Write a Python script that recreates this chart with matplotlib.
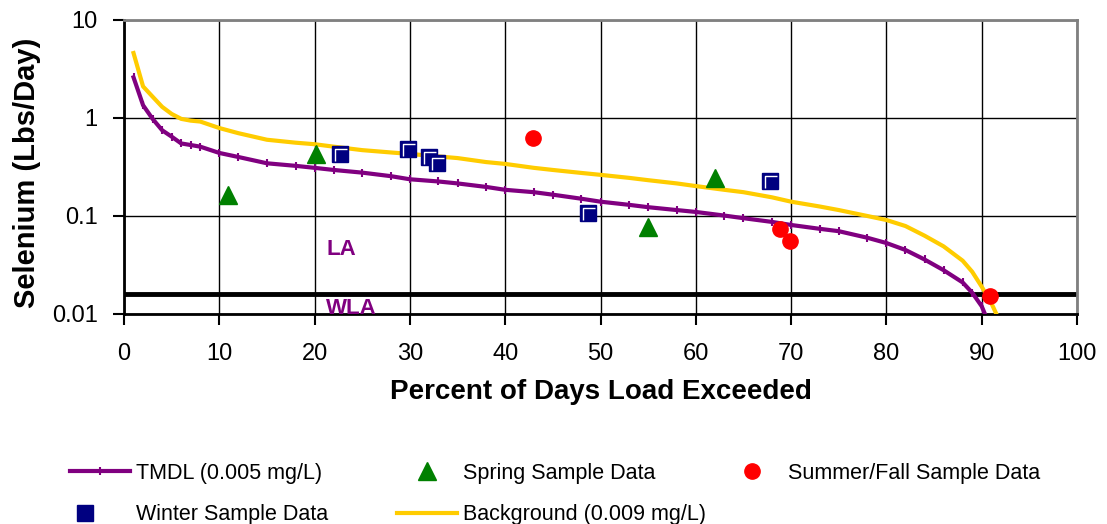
#!/usr/bin/env python3
"""
Selenium load duration curve: TMDL and background curves with seasonal samples.
"""

import matplotlib
matplotlib.use("Agg")
import matplotlib.pyplot as plt
from matplotlib.path import Path
from matplotlib.legend_handler import HandlerTuple
from matplotlib.ticker import FixedLocator, FixedFormatter, NullLocator

plt.rcParams['font.family'] = ['Liberation Sans', 'DejaVu Sans']

# TMDL curve (0.005 mg/L)
tmdl_pct = [1, 2, 3, 4, 5, 6, 7, 8, 10, 12, 15, 18, 20, 22, 25, 28, 30, 33, 35,
            38, 40, 43, 45, 48, 50, 53, 55, 58, 60, 63, 65, 68, 70, 73, 75, 78,
            80, 82, 84, 86, 88, 89, 90, 91]
tmdl_load = [2.6, 1.35, 0.98, 0.75, 0.645, 0.55, 0.53, 0.51, 0.44, 0.40, 0.345,
             0.325, 0.31, 0.295, 0.277, 0.255, 0.237, 0.225, 0.215, 0.198, 0.185,
             0.175, 0.165, 0.15, 0.14, 0.13, 0.123, 0.115, 0.11, 0.101, 0.095,
             0.087, 0.081, 0.074, 0.07, 0.06, 0.053, 0.045, 0.036, 0.028, 0.021,
             0.0165, 0.012, 0.007]

# Background curve (0.009 mg/L)
bg_pct = [1, 2, 3, 4, 5, 6, 7, 8, 10, 12, 15, 18, 20, 22, 25, 28, 30, 33, 35,
          38, 40, 43, 45, 48, 50, 53, 55, 58, 60, 63, 65, 68, 70, 73, 75, 78,
          80, 82, 84, 86, 88, 89, 90, 91, 92]
bg_load = [4.6, 2.1, 1.65, 1.3, 1.1, 0.98, 0.94, 0.92, 0.79, 0.7, 0.6, 0.56,
           0.54, 0.51, 0.47, 0.445, 0.43, 0.405, 0.39, 0.355, 0.34, 0.31, 0.295,
           0.275, 0.263, 0.245, 0.232, 0.215, 0.202, 0.185, 0.175, 0.155, 0.14,
           0.125, 0.115, 0.1, 0.091, 0.079, 0.063, 0.049, 0.035, 0.027, 0.019,
           0.013, 0.008]

# Sample data
spring_pct = [10.9, 20.1, 55.0, 62.0]
spring_load = [0.164, 0.43, 0.078, 0.245]
summer_pct = [42.9, 68.8, 69.9, 90.9]
summer_load = [0.63, 0.074, 0.055, 0.0154]
winter_pct = [22.7, 29.8, 32.0, 32.8, 48.7, 67.8]
winter_load = [0.427, 0.48, 0.40, 0.35, 0.108, 0.227]

wla_level = 0.016

x_ticks = list(range(0, 101, 10))
y_ticks = [0.01, 0.1, 1, 10]
y_tick_labels = ['0.01', '0.1', '1', '10']

PURPLE = '#800080'
GOLD = '#FFCC00'
NAVY = '#000080'
GREEN = '#008000'
RED = '#FF0000'

W, H = 1107, 524
fig = plt.figure(figsize=(W / 100, H / 100), dpi=100)
ax = fig.add_axes([124 / W, 1 - 314 / H, 953 / W, 294 / H])

ax.set_yscale('log')
ax.set_xlim(0, 100)
ax.set_ylim(0.01, 10)

ax.grid(True, which='major', color='black', linewidth=1)
ax.set_axisbelow(True)

ax.axhline(wla_level, color='black', linewidth=3.5, zorder=2)

bg_line, = ax.plot(bg_pct, bg_load, color=GOLD, linewidth=3, zorder=3,
                   label='Background (0.009 mg/L)')
tmdl_line, = ax.plot(tmdl_pct, tmdl_load, color=PURPLE, linewidth=3,
                     marker='|', markersize=6, markeredgewidth=1.5, zorder=4,
                     label='TMDL (0.005 mg/L)')

spring_pts, = ax.plot(spring_pct, spring_load, linestyle='none', marker='^',
                      markersize=13, color=GREEN, markeredgecolor=GREEN, zorder=5)
summer_pts, = ax.plot(summer_pct, summer_load, linestyle='none', marker='o',
                      markersize=11, color=RED, markeredgecolor=RED, zorder=5)
winter_pts, = ax.plot(winter_pct, winter_load, linestyle='none', marker='s',
                      markersize=11, color=NAVY, markeredgecolor=NAVY, zorder=5)

# white highlight "L" inside the winter squares
corner = Path([(-0.35, -0.45), (-0.35, 0.35), (0.45, 0.35)],
              [Path.MOVETO, Path.LINETO, Path.LINETO])
winter_hl, = ax.plot(winter_pct, winter_load, linestyle='none', marker=corner,
                     markersize=10, markeredgecolor='white', markeredgewidth=1,
                     fillstyle='none', zorder=6)

ax.text(21.2, 0.045, 'LA', color=PURPLE, fontsize=16, fontweight='bold',
        va='center', ha='left', zorder=7)
ax.text(21.2, 0.0113, 'WLA', color=PURPLE, fontsize=16, fontweight='bold',
        va='center', ha='left', zorder=7, clip_on=False)

ax.xaxis.set_major_locator(FixedLocator(x_ticks))
ax.yaxis.set_major_locator(FixedLocator(y_ticks))
ax.yaxis.set_major_formatter(FixedFormatter(y_tick_labels))
ax.yaxis.set_minor_locator(NullLocator())
ax.tick_params(axis='both', direction='out', length=8, width=1.5,
               labelsize=17, colors='black')
ax.tick_params(axis='x', pad=13)
ax.tick_params(axis='y', pad=11)

for side in ['top', 'right']:
    ax.spines[side].set_color('#808080')
    ax.spines[side].set_linewidth(2)
for side in ['left', 'bottom']:
    ax.spines[side].set_color('black')
    ax.spines[side].set_linewidth(2)

ax.set_xlabel('Percent of Days Load Exceeded', fontsize=20, fontweight='bold')
ax.xaxis.set_label_coords(0.5, (314 - 379) / 294)
ax.set_ylabel('Selenium (Lbs/Day)', fontsize=21, fontweight='bold')
ax.yaxis.set_label_coords((41 - 124) / 953, 0.48)

# legend: three fixed columns like the spreadsheet original
leg_kw = dict(loc='upper left', frameon=False, fontsize=15.5,
              handlelength=2.8, handletextpad=0.28, labelspacing=0.95,
              borderaxespad=0, borderpad=0,
              handler_map={tuple: HandlerTuple(ndivide=None, pad=0)})
leg_top = 1 - 463 / H
col1 = fig.legend([tmdl_line, (winter_pts, winter_hl)],
                  ['TMDL (0.005 mg/L)', 'Winter Sample Data'],
                  bbox_to_anchor=(70 / W, leg_top), **leg_kw)
col2 = fig.legend([spring_pts, bg_line],
                  ['Spring Sample Data', 'Background (0.009 mg/L)'],
                  bbox_to_anchor=(397 / W, leg_top), **leg_kw)
col3 = fig.legend([summer_pts], ['Summer/Fall Sample Data'],
                  bbox_to_anchor=(722 / W, leg_top), **leg_kw)

fig.savefig('out.png', dpi=100)
